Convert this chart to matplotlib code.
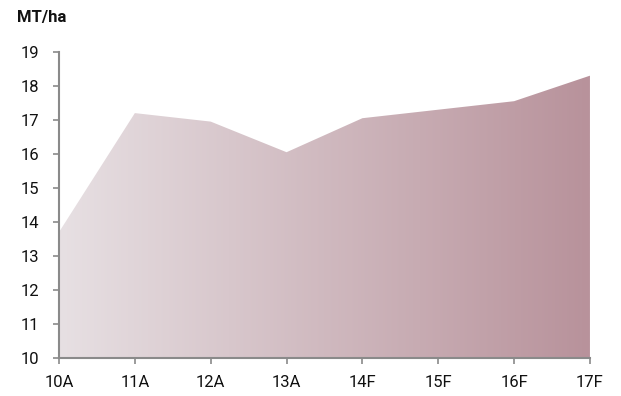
import matplotlib
matplotlib.use("Agg")
import matplotlib.pyplot as plt
import numpy as np
from matplotlib.colors import LinearSegmentedColormap

categories = ["10A", "11A", "12A", "13A", "14F", "15F", "16F", "17F"]
values = [13.7, 17.2, 16.95, 16.05, 17.05, 17.3, 17.55, 18.3]

plt.rcParams['font.family'] = ['Roboto', 'DejaVu Sans']

fig = plt.figure(figsize=(6.21, 3.96), dpi=100)
ax = fig.add_axes([0.095, 0.096, 0.855, 0.773])

x = np.arange(len(categories))
ymin, ymax = 10, 19
poly = ax.fill_between(x, ymin, values, color='none', lw=0)
cmap = LinearSegmentedColormap.from_list("g", ["#e7e0e3", "#b8929b"])
grad = np.linspace(0, 1, 256).reshape(1, -1)
im = ax.imshow(grad, extent=[x[0], x[-1], ymin, ymax], aspect='auto', cmap=cmap, origin='lower', zorder=1)
path = poly.get_paths()[0]
im.set_clip_path(path, transform=ax.transData)

ax.set_xlim(x[0], x[-1])
ax.set_ylim(ymin, ymax)
ax.set_xticks(x)
ax.set_xticklabels(categories)
ax.set_yticks(range(10, 20))
for s in ['top', 'right']:
    ax.spines[s].set_visible(False)
for s in ['left', 'bottom']:
    ax.spines[s].set_color('#8a8a8a')
    ax.spines[s].set_linewidth(1.5)
ax.tick_params(axis='both', colors='#8a8a8a', length=4, width=1.2, labelsize=12, labelcolor='#111111')
ax.tick_params(axis='y', pad=10)
ax.tick_params(axis='x', pad=8)

fig.text(0.027, 0.955, "MT/ha", fontsize=12, fontweight='bold', va='center', ha='left', color='#111111')

fig.savefig("out.png", dpi=100)
